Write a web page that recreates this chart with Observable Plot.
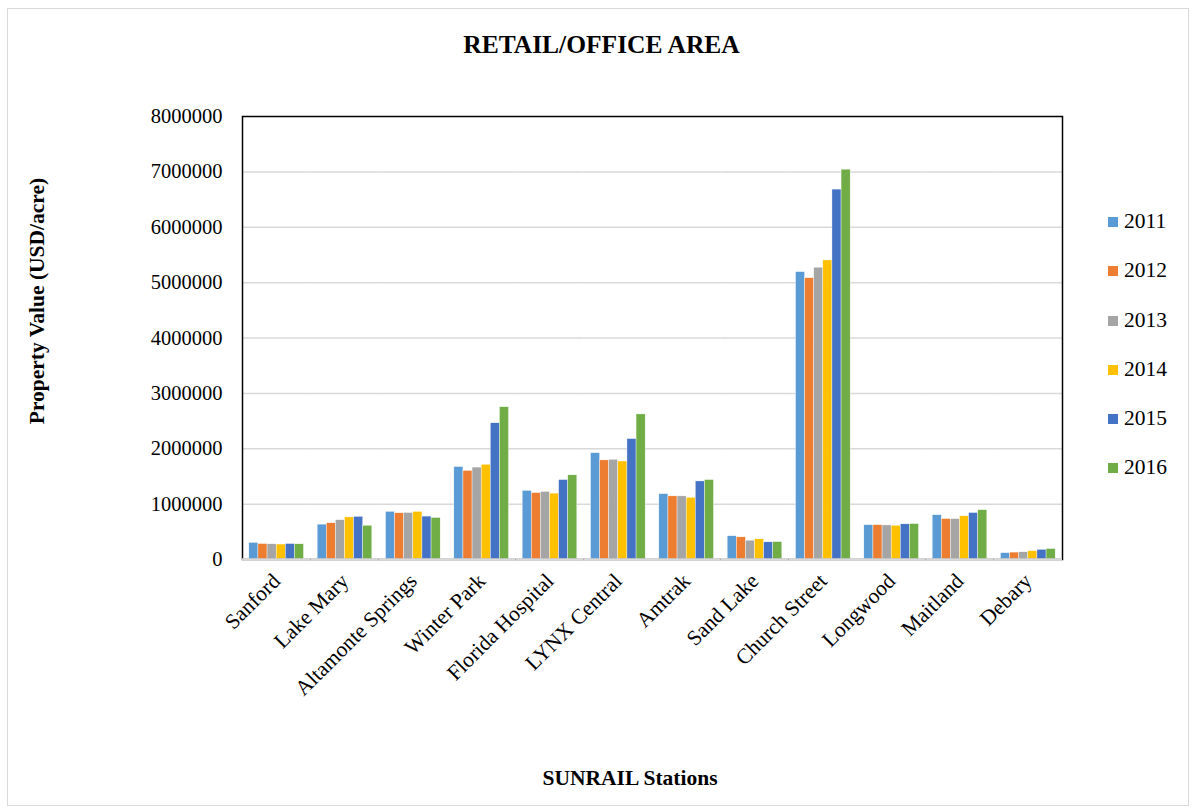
<!DOCTYPE html>
<html>
<head>
<meta charset="utf-8">
<script src="https://cdn.jsdelivr.net/npm/d3@7"></script>
<script src="https://cdn.jsdelivr.net/npm/@observablehq/plot@0.6"></script>
<style>
  html, body { margin: 0; padding: 0; background: #fff; }
  #wrap { position: relative; width: 1195px; height: 811px; font-family: "Liberation Serif", "Times New Roman", serif; color: #000; overflow: hidden; }
  #border { position: absolute; left: 7px; top: 8px; width: 1182px; height: 798px; border: 1px solid #d9d9d9; box-sizing: border-box; }
  #chart { position: absolute; left: 0; top: 0; }
  .t { position: absolute; white-space: nowrap; font-weight: bold; }
  #title { left: 0; width: 1203px; text-align: center; top: 30px; font-size: 25.5px; line-height: 30px; }
  #xtitle { left: 0; width: 1260px; text-align: center; top: 765px; font-size: 21.5px; line-height: 26px; }
  #ytitle { left: 37px; top: 301px; font-size: 21.5px; transform: translate(-50%, -50%) rotate(-90deg); }
  #legend { position: absolute; left: 1108px; top: 0; }
  .li { position: absolute; left: 0; white-space: nowrap; font-size: 21.5px; line-height: 22px; }
  .sw { display: inline-block; width: 10px; height: 10px; margin-right: 6px; vertical-align: 1px; }
</style>
</head>
<body>
<div id="wrap">
  <div id="border"></div>
  <div id="chart"></div>
  <div id="title" class="t">RETAIL/OFFICE AREA</div>
  <div id="ytitle" class="t">Property Value (USD/acre)</div>
  <div id="xtitle" class="t">SUNRAIL Stations</div>
  <div id="legend"></div>
</div>
<script>
const stations = ["Sanford", "Lake Mary", "Altamonte Springs", "Winter Park", "Florida Hospital", "LYNX Central", "Amtrak", "Sand Lake", "Church Street", "Longwood", "Maitland", "Debary"];
const years = ["2011", "2012", "2013", "2014", "2015", "2016"];
const colors = ["#5B9BD5", "#ED7D31", "#A5A5A5", "#FFC000", "#4472C4", "#70AD47"];
const v2011 = [300000, 630000, 860000, 1670000, 1240000, 1920000, 1180000, 420000, 5190000, 620000, 800000, 115000];
const v2012 = [280000, 655000, 835000, 1600000, 1200000, 1790000, 1140000, 400000, 5080000, 620000, 730000, 125000];
const v2013 = [275000, 710000, 840000, 1660000, 1220000, 1800000, 1140000, 340000, 5270000, 615000, 730000, 130000];
const v2014 = [270000, 760000, 860000, 1710000, 1190000, 1770000, 1115000, 365000, 5400000, 610000, 780000, 150000];
const v2015 = [280000, 770000, 775000, 2460000, 1435000, 2175000, 1410000, 310000, 6680000, 635000, 840000, 175000];
const v2016 = [275000, 610000, 750000, 2750000, 1520000, 2620000, 1435000, 315000, 7040000, 640000, 890000, 190000];
const yTicks = [0, 1000000, 2000000, 3000000, 4000000, 5000000, 6000000, 7000000, 8000000];

const series = [v2011, v2012, v2013, v2014, v2015, v2016];
const data = [];
stations.forEach((s, i) => years.forEach((y, j) => data.push({station: s, year: y, value: series[j][i]})));

const W = 1195, ML = 242, MR = 133;
const gap = (W - ML - MR) / stations.length * 0.1; // half gap on each side of a group
const font = "'Liberation Serif', 'Times New Roman', serif";
const plot = Plot.plot({
  width: W,
  height: 811,
  marginLeft: ML,
  marginRight: MR,
  marginTop: 116,
  marginBottom: 252,
  style: {fontFamily: font, fontSize: "20.5px", color: "#000", background: "transparent"},
  fx: {domain: stations, padding: 0, round: false, axis: null},
  x: {domain: years, padding: 0, round: false, insetLeft: gap, insetRight: gap, axis: null},
  y: {domain: [0, 8000000], axis: null},
  color: {domain: years, range: colors},
  marks: [
    Plot.ruleY(yTicks.slice(1, -1), {stroke: "#d9d9d9", strokeWidth: 1.5}),
    Plot.barY(data, {fx: "station", x: "year", y: "value", fill: "year", stroke: "#fff", strokeWidth: 0.4}),
    Plot.frame({facet: "super", stroke: "#000", strokeWidth: 1.5}),
    Plot.ruleY([0], {stroke: "#d9d9d9", strokeWidth: 2.5}),
    Plot.axisY({ticks: yTicks, tickFormat: d => String(d), tickSize: 0, tickPadding: 20, label: null, fontSize: 20.5}),
    Plot.axisFx({anchor: "bottom", tickSize: 0, tickPadding: 18, tickRotate: -45, label: null, fontSize: 21.5})
  ]
});
document.getElementById("chart").appendChild(plot);

const legend = document.getElementById("legend");
const legendY = [221, 270, 320, 369, 418, 467];
years.forEach((y, j) => {
  const d = document.createElement("div");
  d.className = "li";
  d.style.top = (legendY[j] - 11) + "px";
  d.innerHTML = `<span class="sw" style="background:${colors[j]}"></span>${y}`;
  legend.appendChild(d);
});
</script>
</body>
</html>
